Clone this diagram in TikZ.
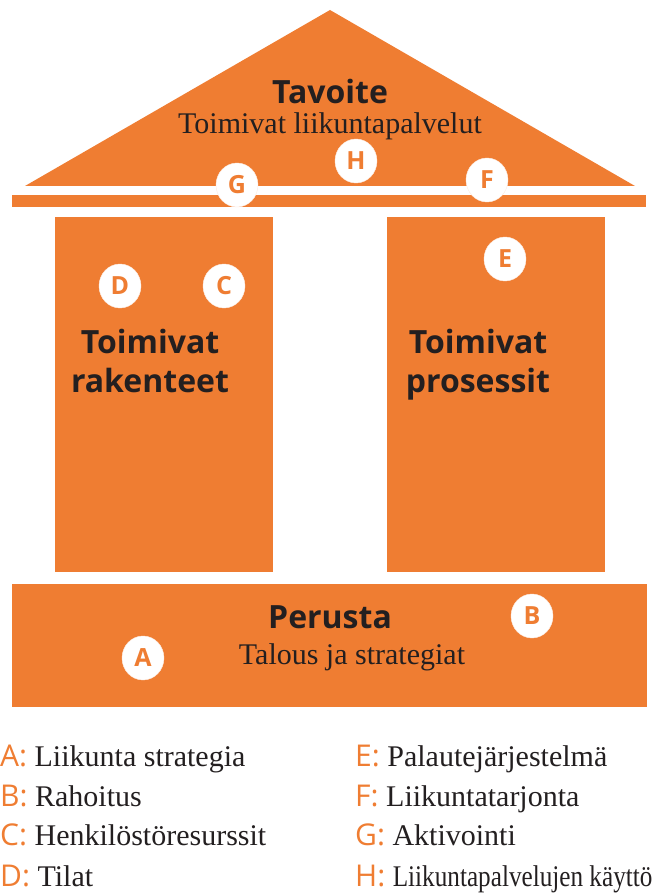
\documentclass[tikz,border=0pt]{standalone}
\usepackage{fontspec}
\setmainfont{Liberation Serif}
\setsansfont{Open Sans}
\usepackage{xcolor}
\usepackage{tikz}
\usetikzlibrary{shapes.geometric, positioning}

\definecolor{houseorange}{RGB}{239,125,50}
\definecolor{textdark}{RGB}{35,31,32}
\newcommand{\legkey}[1]{{\sffamily\color{houseorange}#1:}}

\begin{document}
\begin{tikzpicture}[
    x=1pt, y=-1pt,
    part/.style={
        fill=houseorange
    },
    title/.style={
        font=\sffamily\bfseries\fontsize{32}{39}\selectfont,
        text=textdark,
        anchor=base,
        inner sep=0pt
    },
    subtitle/.style={
        font=\fontsize{30}{34}\selectfont,
        text=textdark,
        anchor=base,
        inner sep=0pt
    },
    badge/.style={
        ellipse,
        fill=white,
        draw=white!85!houseorange,
        minimum width=42pt,
        minimum height=44pt,
        inner sep=0pt,
        text=houseorange,
        font=\sffamily\bfseries\fontsize{25}{25}\selectfont
    },
    legend/.style={
        anchor=base west,
        inner sep=0pt,
        text=textdark,
        font=\fontsize{30}{34}\selectfont
    }
]
\useasboundingbox (0,0) rectangle (660,893);

% House
\fill [part] (25,186) -- (330,10) -- (635,186) -- cycle;
\fill [part] (12,195) rectangle (646,207);
\fill [part] (55,217) rectangle (273,572);
\fill [part] (387,217) rectangle (605,572);
\fill [part] (12,584) rectangle (647,707);

% Texts
\node [title] (goal) at (330,104) {Tavoite};
\node [subtitle] (goalsub) at (330,134) {Toimivat liikuntapalvelut};
\node [title, align=center] (structures) at (150,392) {Toimivat\\rakenteet};
\node [title, align=center] (processes) at (478,392) {Toimivat\\prosessit};
\node [title] (basis) at (330,628) {Perusta};
\node [subtitle] (basissub) at (352,664) {Talous ja strategiat};

% Badges
\node [badge] (badgeG) at (237,185) {G};
\node [badge] (badgeH) at (356,161) {H};
\node [badge] (badgeF) at (487,180) {F};
\node [badge] (badgeD) at (120,286) {D};
\node [badge] (badgeC) at (224,286) {C};
\node [badge] (badgeE) at (505,259) {E};
\node [badge] (badgeB) at (532,616) {B};
\node [badge] (badgeA) at (143,658) {A};

% Legend
\node [legend] (legA) at (0,766) {\legkey{A} Liikunta strategia};
\node [legend] (legB) at (0,806) {\legkey{B} Rahoitus};
\node [legend] (legC) at (0,845) {\legkey{C} Henkilöstöresurssit};
\node [legend] (legD) at (0,886) {\legkey{D} Tilat};
\node [legend] (legE) at (355,766) {\legkey{E} Palautejärjestelmä};
\node [legend] (legF) at (355,806) {\legkey{F} Liikuntatarjonta};
\node [legend] (legG) at (355,845) {\legkey{G} Aktivointi};
\node [legend] (legH) at (355,886) {\legkey{H} \scalebox{0.84}[1]{Liikuntapalvelujen käyttö}};

\end{tikzpicture}
\end{document}
